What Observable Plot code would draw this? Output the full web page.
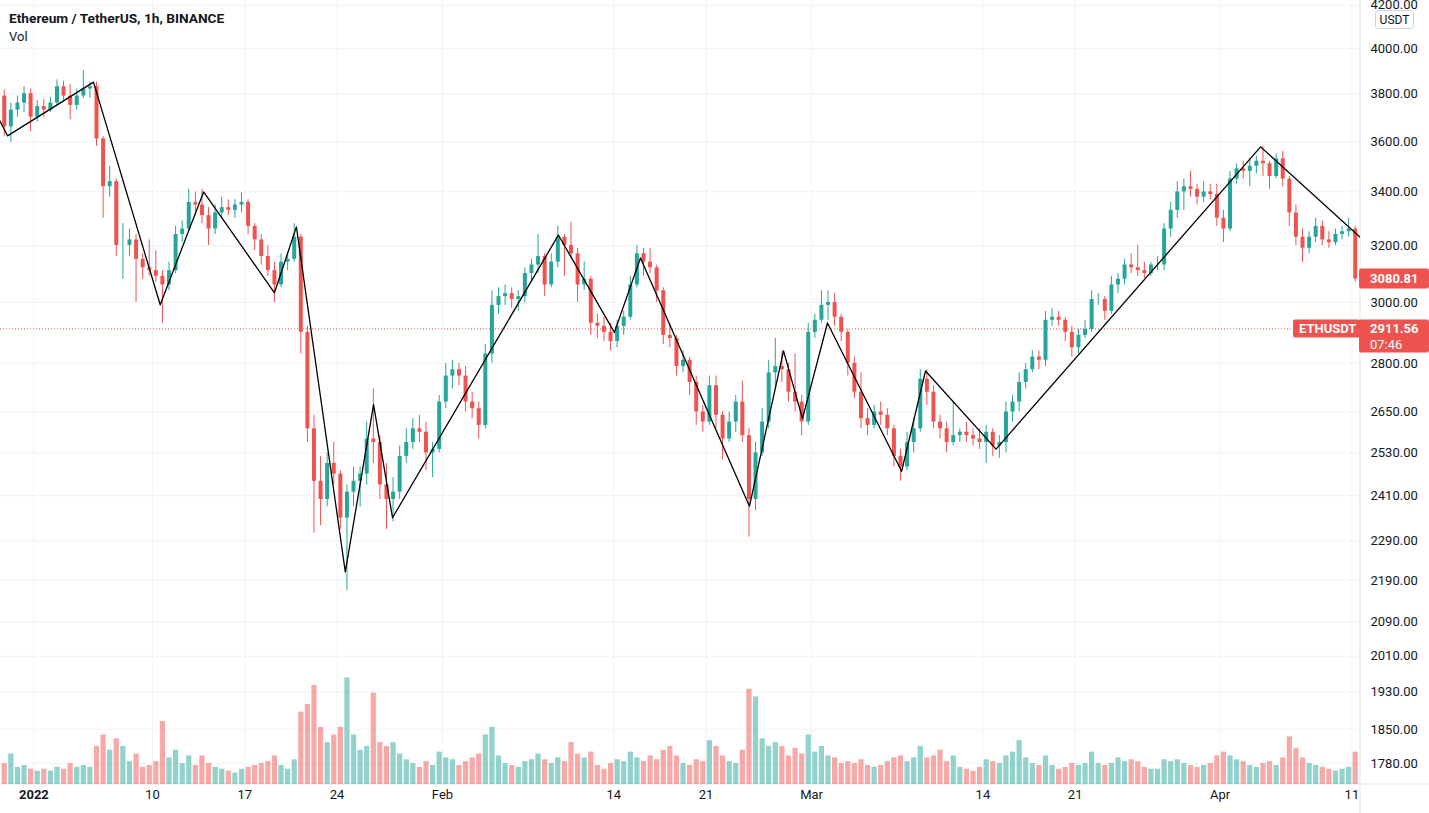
<!DOCTYPE html>
<html>
<head>
<meta charset="utf-8">
<script src="https://cdn.jsdelivr.net/npm/d3@7"></script>
<script src="https://cdn.jsdelivr.net/npm/@observablehq/plot@0.6"></script>
<style>
html, body { margin: 0; padding: 0; background: #ffffff; }
#wrap { position: relative; width: 1429px; height: 813px; overflow: hidden; font-family: Roboto, "Open Sans", sans-serif; }
#wrap svg { position: absolute; left: 0; top: 0; }
.legend { position: absolute; left: 9px; color: #131722; white-space: nowrap; line-height: 16px; z-index: 5; }
</style>
</head>
<body>
<div id="wrap">
  <div class="legend" style="top:10px;font-weight:bold;font-size:13.7px;">Ethereum / TetherUS, 1h, BINANCE</div>
  <div class="legend" style="top:29px;font-size:13px;">Vol</div>
</div>
<script>
// ---------------- data ----------------
const firstCandleStart = "2021-12-29T12:00:00Z";
const candleHours = 12;

// [open, high, low, close] per 12h
const candles = [
  [3790,3815,3620,3660],                          // Dec 29
  [3660,3760,3596,3730],[3730,3790,3700,3760],    // Dec 30
  [3760,3830,3720,3800],[3800,3820,3640,3700],    // Dec 31
  [3700,3770,3680,3745],[3745,3775,3700,3730],    // Jan 1
  [3730,3785,3720,3760],[3760,3860,3750,3830],    // Jan 2
  [3830,3855,3770,3790],[3790,3840,3690,3750],    // Jan 3
  [3750,3820,3730,3790],[3790,3900,3780,3820],    // Jan 4
  [3820,3850,3780,3830],[3830,3850,3580,3610],    // Jan 5
  [3610,3620,3300,3420],[3420,3500,3380,3440],    // Jan 6
  [3440,3450,3160,3200],[3200,3280,3080,3200],    // Jan 7
  [3200,3260,3160,3220],[3220,3240,3000,3150],    // Jan 8
  [3150,3170,3080,3120],[3120,3220,3090,3110],    // Jan 9
  [3110,3180,3070,3090],[3090,3110,2930,3060],    // Jan 10
  [3060,3140,3040,3110],[3110,3270,3100,3240],    // Jan 11
  [3240,3290,3210,3260],[3260,3410,3250,3360],    // Jan 12
  [3360,3400,3310,3350],[3350,3410,3280,3310],    // Jan 13
  [3310,3340,3200,3260],[3260,3350,3240,3320],    // Jan 14
  [3320,3380,3300,3340],[3340,3370,3310,3330],    // Jan 15
  [3330,3370,3300,3350],[3350,3395,3320,3360],    // Jan 16
  [3360,3370,3240,3270],[3270,3280,3180,3220],    // Jan 17
  [3220,3240,3130,3160],[3160,3200,3090,3110],    // Jan 18
  [3110,3140,3000,3060],[3060,3170,3050,3140],    // Jan 19
  [3140,3175,3110,3150],[3150,3280,3140,3230],    // Jan 20
  [3230,3240,2830,2900],[2900,2920,2560,2600],    // Jan 21
  [2600,2640,2310,2450],[2450,2520,2330,2400],    // Jan 22
  [2400,2530,2380,2500],[2500,2560,2440,2470],    // Jan 23
  [2470,2480,2320,2350],[2350,2440,2165,2420],    // Jan 24
  [2420,2490,2380,2450],[2450,2490,2380,2470],    // Jan 25
  [2470,2620,2440,2570],[2570,2720,2500,2560],    // Jan 26
  [2560,2580,2400,2440],[2440,2500,2320,2400],    // Jan 27
  [2400,2460,2340,2420],[2420,2550,2400,2520],    // Jan 28
  [2520,2600,2500,2560],[2560,2630,2540,2600],    // Jan 29
  [2600,2640,2560,2590],[2590,2620,2480,2530],    // Jan 30
  [2530,2560,2460,2540],[2540,2700,2530,2680],    // Jan 31
  [2680,2800,2660,2760],[2760,2810,2720,2780],    // Feb 1
  [2780,2800,2730,2760],[2760,2790,2650,2680],    // Feb 2
  [2680,2710,2630,2660],[2660,2680,2570,2610],    // Feb 3
  [2610,2860,2600,2830],[2830,3040,2800,2990],    // Feb 4
  [2990,3050,2960,3020],[3020,3060,2990,3030],    // Feb 5
  [3030,3050,2980,3010],[3010,3040,2970,3020],    // Feb 6
  [3020,3120,3000,3100],[3100,3150,3070,3130],    // Feb 7
  [3130,3240,3100,3160],[3160,3170,3020,3060],    // Feb 8
  [3060,3170,3050,3140],[3140,3270,3120,3230],    // Feb 9
  [3230,3240,3090,3200],[3200,3285,3150,3170],    // Feb 10
  [3170,3190,3000,3060],[3060,3140,3040,3080],    // Feb 11
  [3080,3090,2890,2930],[2930,2960,2880,2920],    // Feb 12
  [2920,2950,2870,2900],[2900,2930,2840,2870],    // Feb 13
  [2870,2940,2850,2920],[2920,2970,2890,2950],    // Feb 14
  [2950,3090,2940,3060],[3060,3200,3050,3170],    // Feb 15
  [3170,3190,3090,3140],[3140,3190,3100,3120],    // Feb 16
  [3120,3130,3000,3040],[3040,3050,2860,2890],    // Feb 17
  [2890,2930,2850,2880],[2880,2890,2760,2790],    // Feb 18
  [2790,2840,2770,2810],[2810,2820,2700,2740],    // Feb 19
  [2740,2760,2610,2650],[2650,2670,2590,2620],    // Feb 20
  [2620,2760,2610,2730],[2730,2760,2600,2640],    // Feb 21
  [2640,2650,2510,2570],[2570,2650,2560,2620],    // Feb 22
  [2620,2700,2590,2680],[2680,2745,2560,2580],    // Feb 23
  [2580,2600,2300,2400],[2400,2560,2370,2530],    // Feb 24
  [2530,2660,2520,2620],[2620,2810,2600,2770],    // Feb 25
  [2770,2880,2720,2790],[2790,2840,2740,2780],    // Feb 26
  [2780,2800,2680,2710],[2710,2830,2650,2680],    // Feb 27
  [2680,2700,2580,2620],[2620,2930,2610,2900],    // Feb 28
  [2900,2960,2880,2940],[2940,3040,2930,2990],    // Mar 1
  [2990,3040,2940,3000],[3000,3030,2920,2950],    // Mar 2
  [2950,2960,2870,2900],[2900,2910,2760,2800],    // Mar 3
  [2800,2820,2690,2710],[2710,2770,2600,2630],    // Mar 4
  [2630,2660,2580,2610],[2610,2670,2600,2650],    // Mar 5
  [2650,2680,2610,2640],[2640,2660,2580,2600],    // Mar 6
  [2600,2610,2490,2520],[2520,2540,2450,2490],    // Mar 7
  [2490,2590,2480,2560],[2560,2630,2530,2600],    // Mar 8
  [2600,2780,2590,2750],[2750,2780,2670,2710],    // Mar 9
  [2710,2730,2600,2620],[2620,2640,2570,2600],    // Mar 10
  [2600,2620,2530,2560],[2560,2680,2550,2580],    // Mar 11
  [2580,2600,2560,2590],[2590,2620,2560,2580],    // Mar 12
  [2580,2600,2550,2570],[2570,2600,2540,2560],    // Mar 13
  [2560,2610,2500,2590],[2590,2600,2520,2550],    // Mar 14
  [2550,2580,2515,2560],[2560,2680,2530,2650],    // Mar 15
  [2650,2700,2620,2680],[2680,2770,2650,2740],    // Mar 16
  [2740,2800,2720,2780],[2780,2840,2770,2820],    // Mar 17
  [2820,2840,2780,2810],[2810,2970,2790,2940],    // Mar 18
  [2940,2980,2920,2950],[2950,2970,2920,2940],    // Mar 19
  [2940,2950,2870,2900],[2900,2920,2820,2850],    // Mar 20
  [2850,2910,2830,2890],[2890,2940,2880,2910],    // Mar 21
  [2910,3040,2900,3010],[3010,3030,2990,3010],    // Mar 22
  [3010,3020,2940,2970],[2970,3090,2960,3060],    // Mar 23
  [3060,3100,3030,3080],[3080,3150,3060,3130],    // Mar 24
  [3130,3170,3100,3120],[3120,3200,3090,3110],    // Mar 25
  [3110,3140,3080,3100],[3100,3140,3090,3130],    // Mar 26
  [3130,3160,3110,3130],[3130,3280,3110,3260],    // Mar 27
  [3260,3360,3230,3330],[3330,3440,3300,3400],    // Mar 28
  [3400,3450,3330,3420],[3420,3480,3380,3410],    // Mar 29
  [3410,3430,3350,3380],[3380,3440,3360,3400],    // Mar 30
  [3400,3430,3370,3390],[3390,3430,3270,3300],    // Mar 31
  [3300,3330,3210,3260],[3260,3480,3250,3450],    // Apr 1
  [3450,3510,3430,3490],[3490,3520,3450,3480],    // Apr 2
  [3480,3530,3420,3500],[3500,3540,3470,3520],    // Apr 3
  [3520,3580,3460,3510],[3510,3520,3410,3460],    // Apr 4
  [3460,3550,3450,3530],[3530,3560,3420,3450],    // Apr 5
  [3450,3460,3270,3320],[3320,3350,3200,3230],    // Apr 6
  [3230,3260,3140,3190],[3190,3250,3170,3230],    // Apr 7
  [3230,3300,3210,3270],[3270,3290,3200,3220],    // Apr 8
  [3220,3250,3190,3210],[3210,3260,3200,3240],    // Apr 9
  [3240,3270,3220,3250],[3250,3300,3230,3260],    // Apr 10
  [3260,3270,3070,3080.81]                        // Apr 11
];

// volume per 12h candle (thousand ETH, estimated)
const volumes = [
  110,160,90,100,80,70,80,70,90,80,
  110,90,100,90,200,260,180,240,200,120,
  160,90,100,120,330,140,180,110,150,100,
  150,110,90,80,70,60,80,90,100,110,
  120,150,100,80,130,380,420,520,300,220,
  260,300,560,260,180,200,480,220,200,220,
  160,130,110,90,120,100,170,140,130,100,
  120,140,160,260,300,150,110,100,90,120,
  130,160,130,110,140,120,220,160,140,170,
  100,80,110,130,120,170,140,120,150,130,
  180,200,150,110,100,130,120,230,200,150,
  120,110,180,500,460,240,200,220,200,150,
  190,160,260,170,200,150,140,110,120,110,
  130,100,90,100,120,140,150,120,140,200,
  140,150,180,120,150,90,80,70,90,130,
  120,110,150,170,230,140,110,100,150,100,
  80,90,110,100,110,170,110,100,110,140,
  120,130,120,90,80,80,130,120,130,110,
  100,90,100,110,150,170,150,130,120,100,
  90,110,120,100,140,250,190,140,110,100,
  90,80,70,80,90,170
];

// zigzag pivots
const zigzagTimes = [
  "2021-12-29T00:00Z","2021-12-30T00:00Z","2022-01-05T12:30Z","2022-01-10T14:00Z",
  "2022-01-13T21:00Z","2022-01-19T06:00Z","2022-01-20T22:00Z","2022-01-24T15:00Z",
  "2022-01-26T18:30Z","2022-01-28T05:00Z","2022-02-09T19:00Z","2022-02-14T01:00Z",
  "2022-02-16T00:30Z","2022-02-24T07:00Z","2022-02-26T21:00Z","2022-02-28T07:30Z",
  "2022-03-02T05:00Z","2022-03-07T20:00Z","2022-03-09T15:30Z","2022-03-15T00:00Z",
  "2022-04-04T01:40Z","2022-04-11T15:30Z"
];
const zigzagPrices = [
  3730,3623,3850,2992,
  3400,3033,3268,2211,
  2672,2351,3238,2900,
  3155,2382,2840,2630,
  2931,2478,2776,2541,
  3578,3229
];

const priceTicks = [1780,1850,1930,2010,2090,2190,2290,2410,2530,2650,2800,3000,3200,3400,3600,3800,4000,4200];
const dateTicks = ["2022-01-01","2022-01-10","2022-01-17","2022-01-24","2022-02-01","2022-02-14","2022-02-21","2022-03-01","2022-03-14","2022-03-21","2022-04-01","2022-04-11"];
const dateTickLabels = ["2022","10","17","24","Feb","14","21","Mar","14","21","Apr","11"];
const boldDateLabels = ["2022"];

const lastPrice = 3080.81;
const markPrice = 2911.56;
const markSymbol = "ETHUSDT";
const countdown = "07:46";
const currency = "USDT";

// ---------------- chart ----------------
const FONT = 'Roboto, "Open Sans", sans-serif';
const UP = "#26a69a", DOWN = "#ef5350";
const UPV = "rgba(38,166,154,0.5)", DOWNV = "rgba(239,83,80,0.5)";
const HOUR = 3600e3, DAY = 24 * HOUR;
const T0 = Date.UTC(2022, 0, 1);
const xDomain = [new Date(T0 - 2.535 * DAY), new Date(T0 + 100.65 * DAY)];
const yDomain = [1738, 4223];
const W = 1429, H = 813, MR = 69, MB = 29;

const startMs = Date.parse(firstCandleStart);
const rows = candles.map(([o, h, l, c], i) => ({
  time: new Date(startMs + (i + 0.5) * candleHours * HOUR),
  o, h, l, c, v: volumes[i], up: c >= o
}));
const upRows = rows.filter(d => d.up), downRows = rows.filter(d => !d.up);
const zigzag = zigzagTimes.map((t, i) => ({time: new Date(t), price: zigzagPrices[i]}));
const dateData = dateTicks.map((d, i) => ({date: new Date(d + "T00:00:00Z"), label: dateTickLabels[i]}));

const base = {
  width: W, height: H, marginLeft: 0, marginRight: MR, marginTop: 0, marginBottom: MB,
  x: {type: "utc", domain: xDomain, axis: null}
};

// layer 1: grid + axes
const gridLayer = Plot.plot({
  ...base,
  style: {background: "#ffffff", fontFamily: FONT, fontSize: "13px", color: "#131722"},
  y: {type: "log", domain: yDomain, axis: null},
  marks: [
    Plot.gridY(priceTicks, {stroke: "#f0f3fa", strokeOpacity: 1}),
    Plot.gridX(dateData.map(d => d.date), {stroke: "#f0f3fa", strokeOpacity: 1}),
    Plot.axisY(priceTicks, {anchor: "right", tickSize: 0, tickPadding: 10, tickFormat: d => d.toFixed(2), fontSize: 13, fill: "#131722"}),
    Plot.text(dateData.filter(d => !boldDateLabels.includes(d.label)), {x: "date", text: "label", frameAnchor: "bottom", dy: 14, fontSize: 13, fill: "#131722"}),
    Plot.text(dateData.filter(d => boldDateLabels.includes(d.label)), {x: "date", text: "label", frameAnchor: "bottom", dy: 14, fontSize: 13, fontWeight: "bold", fill: "#131722"})
  ]
});

// layer 2: volume
const volLayer = Plot.plot({
  ...base,
  marginTop: 584,
  style: {background: "transparent"},
  y: {domain: [0, 1050], axis: null},
  marks: [
    Plot.ruleX(upRows, {x: "time", y1: 0, y2: "v", stroke: UPV, strokeWidth: 5.2}),
    Plot.ruleX(downRows, {x: "time", y1: 0, y2: "v", stroke: DOWNV, strokeWidth: 5.2})
  ]
});

// layer 3: price
const priceLayer = Plot.plot({
  ...base,
  style: {background: "transparent", fontFamily: FONT},
  y: {type: "log", domain: yDomain, axis: null},
  marks: [
    Plot.ruleY([markPrice], {stroke: DOWN, strokeDasharray: "1,2", strokeWidth: 1}),
    Plot.ruleX(upRows, {x: "time", y1: "l", y2: "h", stroke: UP, strokeWidth: 1}),
    Plot.ruleX(downRows, {x: "time", y1: "l", y2: "h", stroke: DOWN, strokeWidth: 1}),
    Plot.ruleX(upRows, {x: "time", y1: "o", y2: "c", stroke: UP, strokeWidth: 4}),
    Plot.ruleX(downRows, {x: "time", y1: "o", y2: "c", stroke: DOWN, strokeWidth: 4}),
    Plot.line(zigzag, {x: "time", y: "price", stroke: "#000000", strokeWidth: 1.3, clip: true})
  ]
});

const wrap = document.getElementById("wrap");
wrap.insertBefore(priceLayer, wrap.firstChild);
wrap.insertBefore(volLayer, wrap.firstChild);
wrap.insertBefore(gridLayer, wrap.firstChild);

// axis borders (positions from the library's scales)
const xs = gridLayer.scale("x"), ys = priceLayer.scale("y");
const xRight = xs.apply(xDomain[1]);
const yBottom = ys.apply(yDomain[0]);
const g1 = d3.select(gridLayer);
g1.append("line").attr("x1", xRight).attr("x2", xRight).attr("y1", 0).attr("y2", H).attr("stroke", "#e0e3eb");
g1.append("line").attr("x1", 0).attr("x2", W).attr("y1", yBottom).attr("y2", yBottom).attr("stroke", "#e0e3eb");

// price tags
const g3 = d3.select(priceLayer).append("g").attr("font-family", FONT).attr("font-size", 13).attr("text-anchor", "start");
function tagText(g, x, y, txt, bold) {
  g.append("text").attr("x", x).attr("y", y).attr("dy", "0.35em").attr("fill", "#ffffff")
    .attr("font-weight", bold ? "bold" : "normal").attr("text-anchor", "start").text(txt);
}
const yLast = ys.apply(lastPrice);
g3.append("rect").attr("x", xRight - 1).attr("y", yLast - 10).attr("width", W - xRight + 1).attr("height", 20).attr("fill", DOWN).attr("rx", 2);
tagText(g3, xRight + 10, yLast, lastPrice.toFixed(2), true);

const yMark = ys.apply(markPrice);
g3.append("rect").attr("x", xRight - 67).attr("y", yMark - 9).attr("width", 67).attr("height", 18).attr("fill", DOWN).attr("rx", 2);
tagText(g3, xRight - 61, yMark, markSymbol, true);
g3.append("rect").attr("x", xRight - 1).attr("y", yMark - 9).attr("width", W - xRight + 1).attr("height", 33).attr("fill", DOWN).attr("rx", 2);
tagText(g3, xRight + 10, yMark, markPrice.toFixed(2), true);
tagText(g3, xRight + 10, yMark + 16, countdown, false);

// currency badge
const gb = d3.select(priceLayer).append("g").attr("font-family", FONT);
gb.append("rect").attr("x", xRight + 15.5).attr("y", 10.5).attr("width", 38).attr("height", 18).attr("rx", 3)
  .attr("fill", "#ffffff").attr("stroke", "#d1d4dc");
gb.append("text").attr("x", xRight + 34.5).attr("y", 19.5).attr("dy", "0.35em").attr("text-anchor", "middle")
  .attr("font-size", 12).attr("fill", "#131722").text(currency);
</script>
</body>
</html>
